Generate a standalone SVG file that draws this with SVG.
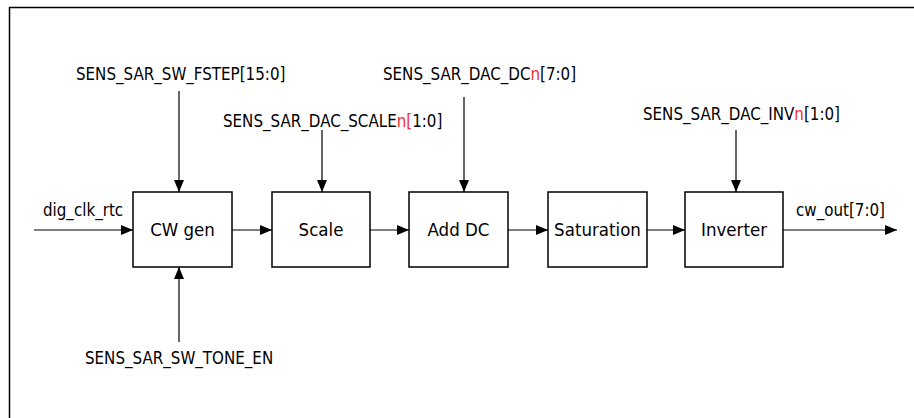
<svg xmlns="http://www.w3.org/2000/svg" width="914" height="418" viewBox="0 0 914 418">
<style>
.box{fill:#fff;stroke:#000;stroke-width:1.5}
.ln{stroke:#000;stroke-width:1.2;fill:none}
.sig{font-family:"DejaVu Sans Condensed","DejaVu Sans",sans-serif;font-stretch:condensed;font-size:16.8px;fill:#000}
.lbl{font-family:"DejaVu Sans Condensed","DejaVu Sans",sans-serif;font-stretch:condensed;font-size:18.5px;fill:#000;text-anchor:middle}
.red{fill:#f03030}
</style>
<defs>
<marker id="ah" markerWidth="12" markerHeight="10" refX="12" refY="5" orient="auto" markerUnits="userSpaceOnUse">
<path d="M0,0 L12,5 L0,10 Z" fill="#000"/>
</marker>
</defs>
<rect width="914" height="418" fill="#fff"/>
<path d="M9.5,418 V7.5 H914" fill="none" stroke="#000" stroke-width="1.5"/>
<g id="connectors">
<line class="ln" x1="34" y1="230" x2="133" y2="230" marker-end="url(#ah)"/>
<line class="ln" x1="232" y1="230" x2="272" y2="230" marker-end="url(#ah)"/>
<line class="ln" x1="370" y1="230" x2="409" y2="230" marker-end="url(#ah)"/>
<line class="ln" x1="508" y1="230" x2="548" y2="230" marker-end="url(#ah)"/>
<line class="ln" x1="647" y1="230" x2="685" y2="230" marker-end="url(#ah)"/>
<line class="ln" x1="783" y1="230" x2="897" y2="230" marker-end="url(#ah)"/>
<line class="ln" x1="179" y1="91" x2="179" y2="192" marker-end="url(#ah)"/>
<line class="ln" x1="322" y1="130" x2="322" y2="192" marker-end="url(#ah)"/>
<line class="ln" x1="464" y1="97" x2="464" y2="192" marker-end="url(#ah)"/>
<line class="ln" x1="736" y1="130" x2="736" y2="192" marker-end="url(#ah)"/>
<line class="ln" x1="179" y1="342" x2="179" y2="267" marker-end="url(#ah)"/>
</g>
<g id="cwgen"><rect class="box" x="133" y="192" width="99" height="75"/><text class="lbl" x="182.5" y="236">CW gen</text></g>
<g id="scale"><rect class="box" x="272" y="192" width="98" height="75"/><text class="lbl" x="321" y="236">Scale</text></g>
<g id="adddc"><rect class="box" x="409" y="192" width="99" height="75"/><text class="lbl" x="458.5" y="236">Add DC</text></g>
<g id="saturation"><rect class="box" x="548" y="192" width="99" height="75"/><text class="lbl" x="597.5" y="236">Saturation</text></g>
<g id="inverter"><rect class="box" x="685" y="192" width="98" height="75"/><text class="lbl" x="734" y="236">Inverter</text></g>
<g id="labels">
<text class="sig" x="43" y="216">dig_clk_rtc</text>
<text class="sig" x="796" y="216">cw_out[7:0]</text>
<text class="sig" x="76" y="80">SENS_SAR_SW_FSTEP[15:0]</text>
<text class="sig" x="223" y="127">SENS_SAR_DAC_SCALE<tspan class="red">n[</tspan>1:0]</text>
<text class="sig" x="383" y="80">SENS_SAR_DAC_DC<tspan class="red">n</tspan>[7:0]</text>
<text class="sig" x="643" y="120">SENS_SAR_DAC_INV<tspan class="red">n</tspan>[1:0]</text>
<text class="sig" x="85" y="364">SENS_SAR_SW_TONE_EN</text>
</g>
</svg>
